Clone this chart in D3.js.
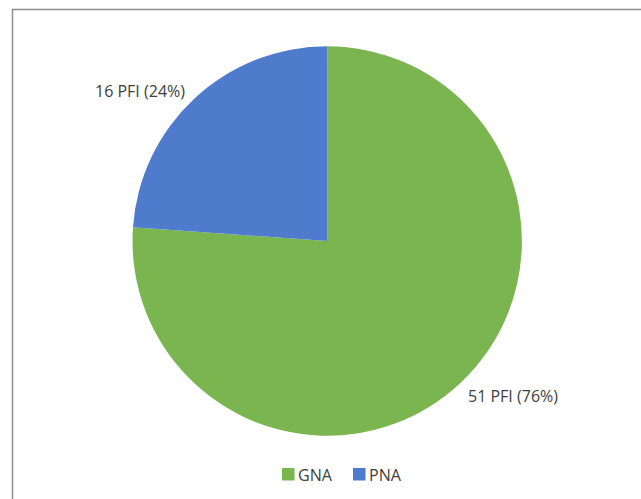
<!DOCTYPE html>
<html><head><meta charset="utf-8">
<script src="https://cdn.jsdelivr.net/npm/d3@7"></script>
<style>body{margin:0;background:#fff}svg{display:block}</style>
</head><body>
<script>
const categories = ["GNA", "PNA"];
const values = [51, 16];
const labels = ["51 PFI (76%)", "16 PFI (24%)"];
const colors = ["#7ab550", "#4e7bcb"];

const W = 641, H = 499;
const svg = d3.select("body").append("svg").attr("width", W).attr("height", H);
svg.append("rect").attr("width", W).attr("height", H).attr("fill", "#fff");
svg.append("rect").attr("x", 12.5).attr("y", 9.5).attr("width", W + 20).attr("height", H + 20)
  .attr("fill", "none").attr("stroke", "#8c8c8c").attr("stroke-width", 1.5);

const cx = 327.2, cy = 241, r = 194.7;
const pie = d3.pie().sort(null).value(d => d)(values);
const arc = d3.arc().innerRadius(0).outerRadius(r);
const g = svg.append("g").attr("transform", `translate(${cx},${cy})`);
g.selectAll("path").data(pie).join("path")
  .attr("d", arc).attr("fill", (d, i) => colors[i]);

const font = "'Open Sans', sans-serif";
const labelPos = [[468, 401.5], [95, 97]];
svg.selectAll("text.lbl").data(labels).join("text").attr("class", "lbl")
  .attr("x", (d, i) => labelPos[i][0]).attr("y", (d, i) => labelPos[i][1])
  .attr("font-family", font).attr("font-size", 16).attr("fill", "#404040")
  .attr("textLength", 90).attr("lengthAdjust", "spacingAndGlyphs")
  .text(d => d);

const legX = [282, 353];
const legW = [34, 32];
const leg = svg.selectAll("g.leg").data(categories).join("g").attr("class", "leg")
  .attr("transform", (d, i) => `translate(${legX[i]},468)`);
leg.append("rect").attr("width", 12.5).attr("height", 12.5).attr("fill", (d, i) => colors[i]);
leg.append("text").attr("x", 16).attr("y", 12.8)
  .attr("font-family", font).attr("font-size", 16).attr("fill", "#404040")
  .attr("textLength", (d, i) => legW[i]).attr("lengthAdjust", "spacingAndGlyphs")
  .text(d => d);
</script>
</body></html>
